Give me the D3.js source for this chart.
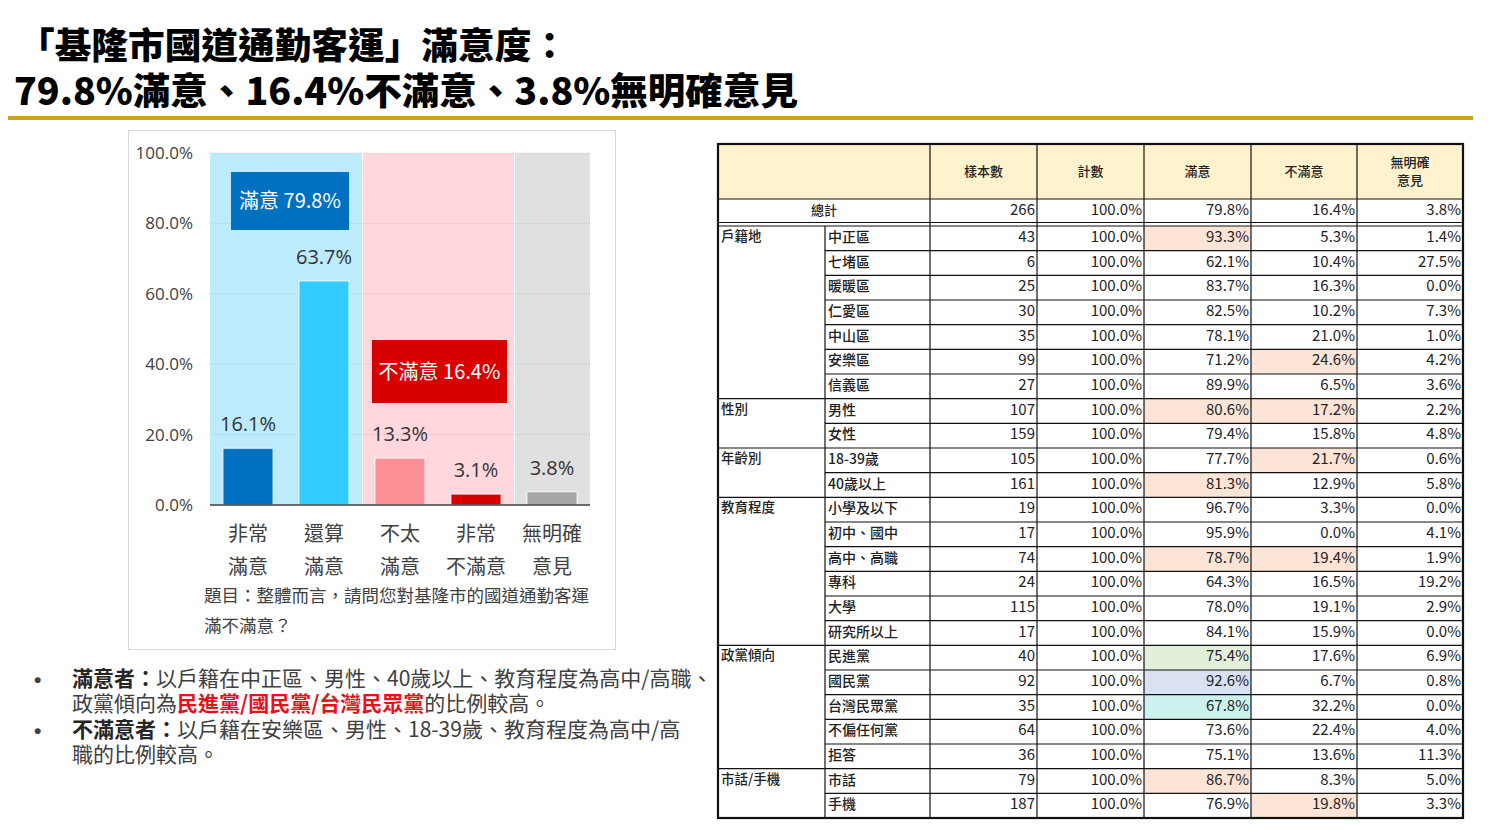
<!DOCTYPE html>
<html>
<head>
<meta charset="utf-8">
<script src="https://cdn.jsdelivr.net/npm/d3@7"></script>
<style>
  body { margin: 0; background: #fff; }
  svg { display: block; font-family: "Noto Sans CJK TC", "Noto Sans", sans-serif; }
</style>
</head>
<body>
<svg id="chart" width="1490" height="838"></svg>
<script>
// Data - chart
let catTop = ["非常", "還算", "不太", "非常", "無明確"];
let catBottom = ["滿意", "滿意", "滿意", "不滿意", "意見"];
let values = [16.1, 63.7, 13.3, 3.1, 3.8];
let yTicks = [0, 20, 40, 60, 80, 100];
let summaryLabels = ["滿意 79.8%", "不滿意 16.4%"];

// Data - table
let headers = ["樣本數", "計數", "滿意", "不滿意", "無明確|意見"];
let totalRow = [266, 100.0, 79.8, 16.4, 3.8];
let groups = ["戶籍地", "性別", "年齡別", "教育程度", "政黨傾向", "市話/手機"];
let groupSize = [7, 2, 2, 6, 5, 2];
let rowLabels = ["中正區", "七堵區", "暖暖區", "仁愛區", "中山區", "安樂區", "信義區",
  "男性", "女性", "18-39歲", "40歲以上",
  "小學及以下", "初中、國中", "高中、高職", "專科", "大學", "研究所以上",
  "民進黨", "國民黨", "台灣民眾黨", "不偏任何黨", "拒答", "市話", "手機"];
let sampleN = [43, 6, 25, 30, 35, 99, 27, 107, 159, 105, 161, 19, 17, 74, 24, 115, 17, 40, 92, 35, 64, 36, 79, 187];
let satisfied = [93.3, 62.1, 83.7, 82.5, 78.1, 71.2, 89.9, 80.6, 79.4, 77.7, 81.3, 96.7, 95.9, 78.7, 64.3, 78.0, 84.1, 75.4, 92.6, 67.8, 73.6, 75.1, 86.7, 76.9];
let unsatisfied = [5.3, 10.4, 16.3, 10.2, 21.0, 24.6, 6.5, 17.2, 15.8, 21.7, 12.9, 3.3, 0.0, 19.4, 16.5, 19.1, 15.9, 17.6, 6.7, 32.2, 22.4, 13.6, 8.3, 19.8];
let noOpinion = [1.4, 27.5, 0.0, 7.3, 1.0, 4.2, 3.6, 2.2, 4.8, 0.6, 5.8, 0.0, 4.1, 1.9, 19.2, 2.9, 0.0, 6.9, 0.8, 0.0, 4.0, 11.3, 5.0, 3.3];
// highlighted cells: [row, column(2=滿意,3=不滿意), kind]
let highlights = [[0, 2, "hi"], [5, 3, "hi"], [7, 2, "hi"], [7, 3, "hi"], [9, 3, "hi"], [10, 2, "hi"],
  [13, 2, "hi"], [13, 3, "hi"], [17, 2, "dpp"], [18, 2, "kmt"], [19, 2, "tpp"], [22, 2, "hi"], [23, 3, "hi"]];

let svg = d3.select("#chart");

// Title
let title = svg.append("g").attr("font-weight", 900).attr("fill", "#000");
title.append("text").attr("x", 18).attr("y", 59).attr("font-size", 36).attr("textLength", 550).attr("lengthAdjust", "spacingAndGlyphs")
  .text("「基隆市國道通勤客運」滿意度：");
title.append("text").attr("x", 14).attr("y", 105).attr("font-size", 37).attr("textLength", 784).attr("lengthAdjust", "spacingAndGlyphs")
  .text("79.8%滿意、16.4%不滿意、3.8%無明確意見");
svg.append("rect").attr("x", 8).attr("y", 116).attr("width", 1465).attr("height", 4).attr("fill", "#C9A227");

// Chart frame
svg.append("rect").attr("x", 128.5).attr("y", 130.5).attr("width", 487).attr("height", 519)
  .attr("fill", "#fff").attr("stroke", "#D9D9D9");

let x = d3.scaleBand().domain(d3.range(values.length)).range([210, 590]).paddingInner(0.34).paddingOuter(0.17);
let y = d3.scaleLinear().domain([0, 100]).range([505, 153]);
let step = x.step();

// Background zones
let zones = [[0, 2, "#BDEBFD"], [2, 4, "#FFD7DD"], [4, 5, "#E0E0E0"]];
svg.append("g").selectAll("rect").data(zones).join("rect")
  .attr("x", d => 210 + d[0] * step + (d[0] ? 1 : 0))
  .attr("width", d => (d[1] - d[0]) * step - (d[0] ? 1 : 0))
  .attr("y", y(100)).attr("height", y(0) - y(100))
  .attr("fill", d => d[2]);

// gridlines
svg.append("g").selectAll("line").data(yTicks.slice(1)).join("line")
  .attr("x1", 210).attr("x2", 590).attr("y1", d => y(d)).attr("y2", d => y(d))
  .attr("stroke", "#000").attr("stroke-opacity", 0.06);

// y axis
let yAxis = svg.append("g").attr("transform", "translate(196,0)")
  .call(d3.axisLeft(y).tickValues(yTicks).tickFormat(d => d.toFixed(1) + "%").tickSize(0));
yAxis.select(".domain").remove();
yAxis.selectAll("text").attr("font-size", 17).attr("fill", "#404040").attr("font-family", "Open Sans, Noto Sans, sans-serif");

// bars
let barColors = ["#0070C0", "#33CCFF", "#FF8F97", "#D90000", "#A6A6A6"];
svg.append("g").selectAll("rect").data(values).join("rect")
  .attr("x", (d, i) => x(i)).attr("width", x.bandwidth())
  .attr("y", d => y(d)).attr("height", d => y(0) - y(d))
  .attr("fill", (d, i) => barColors[i])
  .attr("stroke", "#fff").attr("stroke-opacity", 0.6).attr("stroke-width", 1.5);

svg.append("line").attr("x1", 210).attr("x2", 590).attr("y1", y(0)).attr("y2", y(0))
  .attr("stroke", "#404040").attr("stroke-width", 1.5);

// value labels
svg.append("g").selectAll("text").data(values).join("text")
  .attr("x", (d, i) => x(i) + x.bandwidth() / 2)
  .attr("y", d => y(d) - 17)
  .attr("text-anchor", "middle").attr("font-size", 20).attr("fill", "#333")
  .attr("font-family", "Open Sans, Noto Sans, sans-serif")
  .text(d => d.toFixed(1) + "%");

// summary boxes
let boxes = [
  { label: summaryLabels[0], x0: 231, x1: 349, top: 172, bottom: 230, fill: "#0070C0" },
  { label: summaryLabels[1], x0: 372, x1: 507, top: 340, bottom: 403, fill: "#D90000" }
];
let bx = svg.append("g").selectAll("g").data(boxes).join("g");
bx.append("rect").attr("x", d => d.x0).attr("y", d => d.top)
  .attr("width", d => d.x1 - d.x0).attr("height", d => d.bottom - d.top).attr("fill", d => d.fill);
bx.append("text").attr("x", d => (d.x0 + d.x1) / 2).attr("y", d => (d.top + d.bottom) / 2 + 7)
  .attr("text-anchor", "middle").attr("fill", "#fff").attr("font-size", 20).text(d => d.label);

// category labels
let cats = svg.append("g").selectAll("g").data(catTop).join("g")
  .attr("transform", (d, i) => `translate(${x(i) + x.bandwidth() / 2},0)`);
cats.append("text").attr("y", 541).attr("text-anchor", "middle").attr("font-size", 20).attr("fill", "#404040").text(d => d);
cats.append("text").attr("y", 574).attr("text-anchor", "middle").attr("font-size", 20).attr("fill", "#404040").text((d, i) => catBottom[i]);

// question
let q = svg.append("g").attr("font-size", 17.5).attr("fill", "#404040");
q.append("text").attr("x", 204).attr("y", 602).text("題目：整體而言，請問您對基隆市的國道通勤客運");
q.append("text").attr("x", 204).attr("y", 632).text("滿不滿意？");

// bullets
let notes = svg.append("g").attr("font-size", 21).attr("fill", "#404040");
notes.append("text").attr("x", 34).attr("y", 687).attr("font-family", "Liberation Sans, sans-serif").attr("font-weight", 700).text("•");
notes.append("text").attr("x", 34).attr("y", 738).attr("font-family", "Liberation Sans, sans-serif").attr("font-weight", 700).text("•");
let l1 = notes.append("text").attr("x", 72).attr("y", 686);
l1.append("tspan").attr("font-weight", 700).attr("fill", "#262626").text("滿意者：");
l1.append("tspan").text("以戶籍在中正區、男性、40歲以上、教育程度為高中/高職、");
let l2 = notes.append("text").attr("x", 72).attr("y", 711);
l2.append("tspan").text("政黨傾向為");
l2.append("tspan").attr("font-weight", 700).attr("fill", "#E8101A").text("民進黨/國民黨/台灣民眾黨");
l2.append("tspan").text("的比例較高。");
let l3 = notes.append("text").attr("x", 72).attr("y", 737);
l3.append("tspan").attr("font-weight", 700).attr("fill", "#262626").text("不滿意者：");
l3.append("tspan").text("以戶籍在安樂區、男性、18-39歲、教育程度為高中/高");
notes.append("text").attr("x", 72).attr("y", 762).text("職的比例較高。");

// ---------- Table ----------
let colEdges = [718, 825, 930, 1037, 1144, 1251, 1357, 1463];
let ry = d3.scaleLinear().domain([0, rowLabels.length]).range([226, 818]);
let tbl = svg.append("g").attr("font-family", "'Liberation Sans Narrow', 'Noto Sans CJK TC', sans-serif");
let hiFill = { hi: "#FCE4D6", dpp: "#E2EFDA", kmt: "#D9E1F2", tpp: "#CCF2EE" };

// header fill
tbl.append("rect").attr("x", colEdges[0]).attr("y", 144).attr("width", colEdges[7] - colEdges[0]).attr("height", 55)
  .attr("fill", "#FFF2CC");
// highlights
tbl.append("g").selectAll("rect").data(highlights).join("rect")
  .attr("x", d => colEdges[d[1] + 2]).attr("width", d => colEdges[d[1] + 3] - colEdges[d[1] + 2])
  .attr("y", d => ry(d[0])).attr("height", ry(1) - ry(0))
  .attr("fill", d => hiFill[d[2]]);

// header text
headers.forEach((h, i) => {
  let cx = (colEdges[i + 2] + colEdges[i + 3]) / 2;
  let parts = h.split("|");
  parts.forEach((p, j) => {
    tbl.append("text").attr("x", cx).attr("y", 176 + (j - (parts.length - 1) / 2) * 18)
      .attr("text-anchor", "middle").attr("font-size", 13).attr("font-weight", 500).attr("fill", "#222").text(p);
  });
});

// total row
tbl.append("text").attr("x", (colEdges[0] + colEdges[2]) / 2).attr("y", 215).attr("text-anchor", "middle")
  .attr("font-size", 13).attr("font-weight", 500).attr("fill", "#222").text("總計");
let fmtCell = (v, i) => i === 0 ? String(v) : v.toFixed(1) + "%";
tbl.append("g").selectAll("text").data(totalRow).join("text")
  .attr("x", (d, i) => colEdges[i + 3] - 2).attr("y", 215).attr("text-anchor", "end")
  .attr("font-size", 15).attr("fill", "#222").text(fmtCell);

// body rows
let rowData = rowLabels.map((r, i) => ({ label: r, cells: [sampleN[i], 100.0, satisfied[i], unsatisfied[i], noOpinion[i]] }));
let rows = tbl.append("g").selectAll("g").data(rowData).join("g")
  .attr("transform", (d, i) => `translate(0,${ry(i)})`);
rows.append("text").attr("x", colEdges[1] + 3).attr("y", 16).attr("font-size", 14).attr("fill", "#222")
  .attr("font-weight", 500).text(d => d.label);
rows.selectAll("text.v").data(d => d.cells).join("text").attr("class", "v")
  .attr("x", (d, i) => colEdges[i + 3] - 2).attr("y", 16).attr("text-anchor", "end")
  .attr("font-size", 15).attr("fill", "#222").text(fmtCell);

// group labels
let starts = d3.cumsum([0].concat(groupSize)).slice(0, groups.length);
tbl.append("g").selectAll("text").data(groups).join("text")
  .attr("x", colEdges[0] + 3).attr("y", (d, i) => ry(starts[i]) + 15)
  .attr("font-size", 13.5).attr("font-weight", 500).attr("fill", "#222").text(d => d);

// grid lines
let lines = tbl.append("g").attr("stroke", "#111").attr("stroke-width", 1.2);
d3.range(1, rowLabels.length).forEach(i => {
  let isGroup = starts.includes(i);
  lines.append("line").attr("x1", isGroup ? colEdges[0] : colEdges[1]).attr("x2", colEdges[7])
    .attr("y1", ry(i)).attr("y2", ry(i));
});
lines.append("line").attr("x1", colEdges[0]).attr("x2", colEdges[7]).attr("y1", 199).attr("y2", 199);
lines.append("line").attr("x1", colEdges[0]).attr("x2", colEdges[7]).attr("y1", 222.5).attr("y2", 222.5);
lines.append("line").attr("x1", colEdges[0]).attr("x2", colEdges[7]).attr("y1", 226).attr("y2", 226);
colEdges.forEach((cx, i) => {
  lines.append("line").attr("x1", cx).attr("x2", cx).attr("y1", i === 1 ? 226 : 144).attr("y2", 818);
});
// outer border
tbl.append("rect").attr("x", colEdges[0]).attr("y", 144).attr("width", colEdges[7] - colEdges[0]).attr("height", 818 - 144)
  .attr("fill", "none").attr("stroke", "#111").attr("stroke-width", 2.2);
</script>
</body>
</html>
